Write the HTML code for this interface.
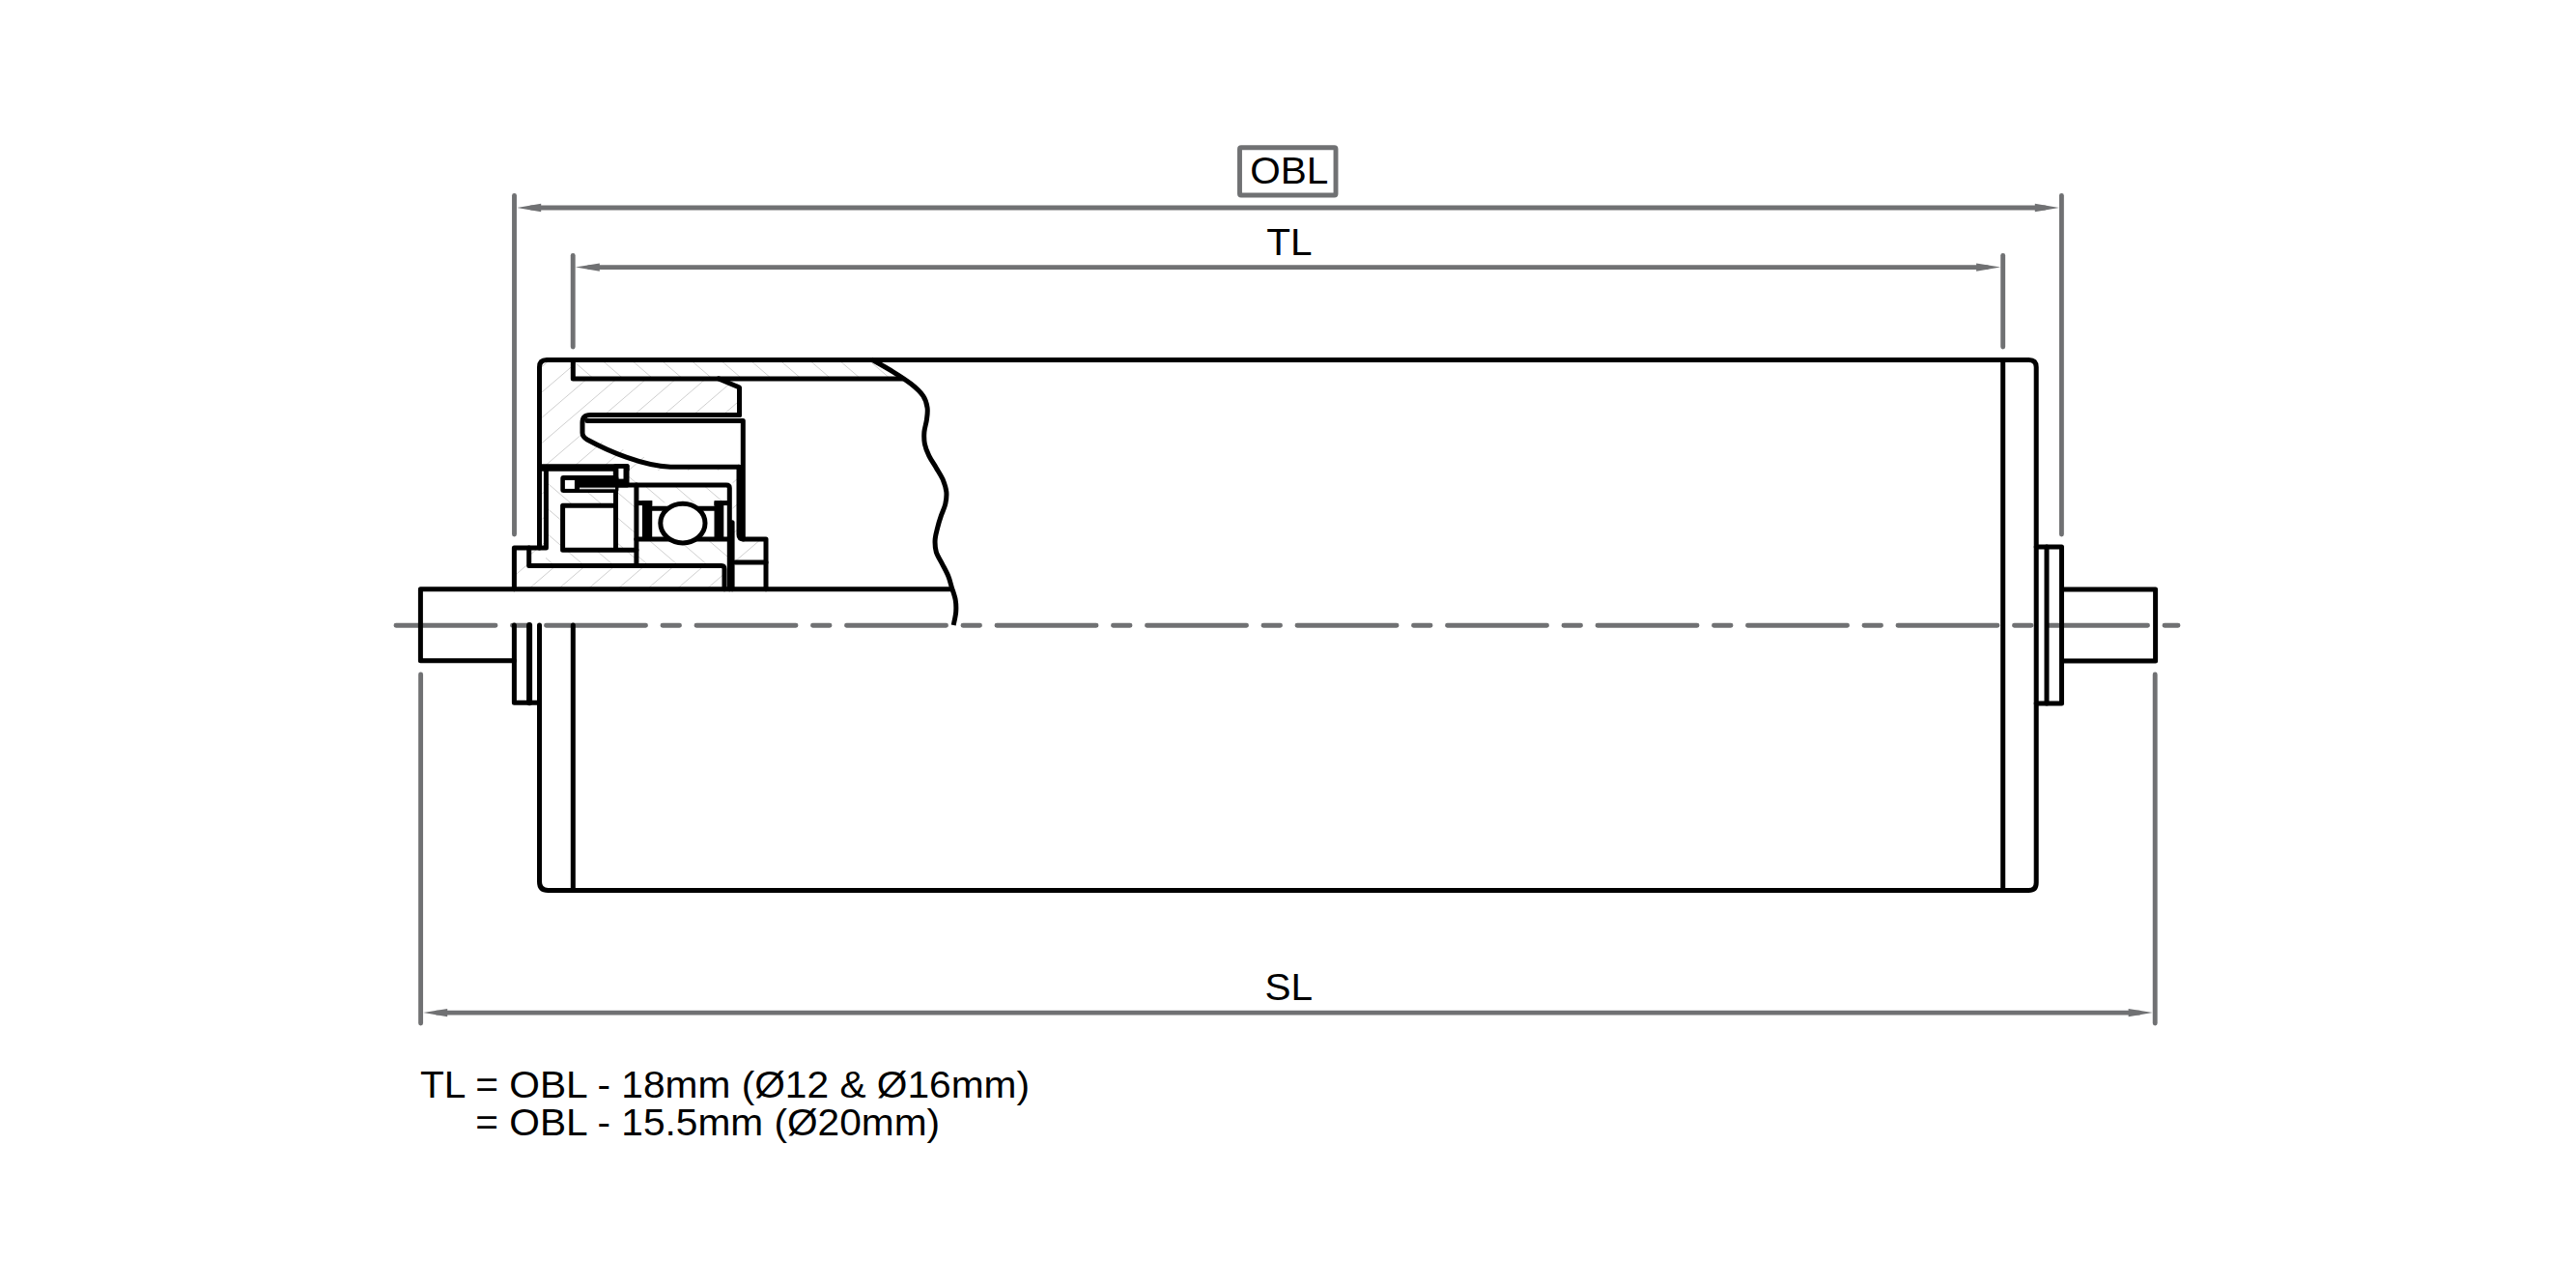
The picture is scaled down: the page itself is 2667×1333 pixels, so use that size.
<!DOCTYPE html>
<html><head><meta charset="utf-8"><style>
html,body{margin:0;padding:0;background:#fff;}
svg{display:block;}
text{font-family:"Liberation Sans", sans-serif;}
</style></head><body>
<svg width="2667" height="1333" viewBox="0 0 2667 1333">
<rect width="2667" height="1333" fill="#fff"/>
<clipPath id="hc1"><path d="M558 373 L593 373 L593 392 L744 392 L765 401 L765 430 L603 430 L603 450 L694 483 L765 483 L769 483 L769 557 L793 557 L793 610 L532 610 L532 567 L558 567 Z"/></clipPath><path clip-path="url(#hc1)" d="M510.8 370.0L228.5 612.0M541.5 370.0L259.2 612.0M572.2 370.0L289.9 612.0M602.9 370.0L320.6 612.0M633.6 370.0L351.3 612.0M664.3 370.0L382.0 612.0M695.0 370.0L412.7 612.0M725.7 370.0L443.4 612.0M756.4 370.0L474.1 612.0M787.1 370.0L504.8 612.0M817.8 370.0L535.5 612.0M848.5 370.0L566.2 612.0M879.2 370.0L596.9 612.0M909.9 370.0L627.6 612.0M940.6 370.0L658.3 612.0M971.3 370.0L689.0 612.0M1002.0 370.0L719.7 612.0M1032.7 370.0L750.4 612.0M1063.4 370.0L781.1 612.0M1094.1 370.0L811.8 612.0" stroke="#cfcfcf" stroke-width="1" fill="none"/>
<rect x="565" y="487" width="193.5" height="98.5" fill="#fff"/>
<rect x="532" y="585" width="218" height="25" fill="#fff"/>
<rect x="532" y="567" width="16" height="43" fill="#fff"/>
<rect x="758" y="557" width="35" height="53" fill="#fff"/>
<clipPath id="hc2"><path d="M532 567 L548 567 L548 585.5 L750 585.5 L750 610 L532 610 Z"/></clipPath><path clip-path="url(#hc2)" d="M507.2 565.0L452.4 612.0M537.9 565.0L483.1 612.0M568.6 565.0L513.8 612.0M599.3 565.0L544.5 612.0M630.0 565.0L575.2 612.0M660.7 565.0L605.9 612.0M691.4 565.0L636.6 612.0M722.1 565.0L667.3 612.0M752.8 565.0L698.0 612.0M783.5 565.0L728.7 612.0M814.2 565.0L759.4 612.0" stroke="#cfcfcf" stroke-width="1" fill="none"/>
<clipPath id="hc3"><path d="M593 373 L904 373 L935 392 L593 392 Z"/></clipPath><path clip-path="url(#hc3)" d="M558.5 370.0L587.6 395.0M589.2 370.0L618.3 395.0M619.9 370.0L649.0 395.0M650.6 370.0L679.7 395.0M681.3 370.0L710.4 395.0M712.0 370.0L741.1 395.0M742.7 370.0L771.8 395.0M773.4 370.0L802.5 395.0M804.1 370.0L833.2 395.0M834.8 370.0L863.9 395.0M865.5 370.0L894.6 395.0M896.2 370.0L925.3 395.0M926.9 370.0L956.0 395.0M957.6 370.0L986.7 395.0" stroke="#cfcfcf" stroke-width="1" fill="none"/>
<clipPath id="hc4"><path d="M659 502 L755 502 L755 520.6 L659 520.6 Z M659 557.9 L755 557.9 L755 585.5 L659 585.5 Z"/></clipPath><path clip-path="url(#hc4)" d="M541.6 500.0L646.6 590.0M572.2 500.0L677.3 590.0M603.0 500.0L708.0 590.0M633.7 500.0L738.7 590.0M664.4 500.0L769.4 590.0M695.1 500.0L800.1 590.0M725.8 500.0L830.8 590.0M756.5 500.0L861.5 590.0M787.2 500.0L892.2 590.0" stroke="#cfcfcf" stroke-width="1" fill="none"/>
<clipPath id="hc5"><path d="M565 487.7 L658.9 487.7 L658.9 585.5 L565 585.5 Z"/></clipPath><path clip-path="url(#hc5)" d="M426.4 485.0L549.0 590.0M457.1 485.0L579.7 590.0M487.8 485.0L610.4 590.0M518.5 485.0L641.1 590.0M549.2 485.0L671.8 590.0M579.9 485.0L702.5 590.0M610.6 485.0L733.2 590.0M641.3 485.0L763.9 590.0M672.0 485.0L794.6 590.0" stroke="#cfcfcf" stroke-width="1" fill="none"/>
<clipPath id="hc6"><path d="M758 557.9 L793 557.9 L793 582.1 L758 582.1 Z"/></clipPath><path clip-path="url(#hc6)" d="M730.0 555.0L695.0 585.0M760.7 555.0L725.7 585.0M791.4 555.0L756.4 585.0M822.1 555.0L787.1 585.0M852.8 555.0L817.8 585.0" stroke="#cfcfcf" stroke-width="1" fill="none"/>
<rect x="582.6" y="523.3" width="55" height="46" fill="#fff"/>
<rect x="565" y="487.7" width="75" height="4.5" fill="#fff"/>
<rect x="658.9" y="520.6" width="96.4" height="37.3" fill="#fff"/>
<g stroke="#707173" stroke-width="4.9" stroke-linecap="round" fill="none"><line x1="532.5" y1="202.5" x2="532.5" y2="553" /><line x1="2134.4" y1="202.5" x2="2134.4" y2="553" /><line x1="550" y1="215" x2="2117" y2="215" /><line x1="593.2" y1="264.5" x2="593.2" y2="359" /><line x1="2073.7" y1="264.5" x2="2073.7" y2="359" /><line x1="610" y1="276.6" x2="2057" y2="276.6" /><line x1="435.6" y1="698" x2="435.6" y2="1059" /><line x1="2231.2" y1="698" x2="2231.2" y2="1059" /><line x1="452" y1="1048.1" x2="2215" y2="1048.1" /><rect x="1283.5" y="152.7" width="99.5" height="49.3" rx="1.5" fill="none"/></g>
<polygon points="535.2,215.0 560.2,210.8 560.2,219.2" fill="#707173"/>
<polygon points="2131.8,215.0 2106.8,210.8 2106.8,219.2" fill="#707173"/>
<polygon points="595.8,276.6 620.8,272.4 620.8,280.8" fill="#707173"/>
<polygon points="2071.1,276.6 2046.1,272.4 2046.1,280.8" fill="#707173"/>
<polygon points="438.2,1048.1 463.2,1043.9 463.2,1052.3" fill="#707173"/>
<polygon points="2228.6,1048.1 2203.6,1043.9 2203.6,1052.3" fill="#707173"/>
<path d="M 410 647.2 L 2255 647.2" stroke="#707173" stroke-width="4.9" stroke-linecap="round" stroke-dasharray="103 17.5 17.5 17.5" fill="none"/>
<g stroke="#000" stroke-width="5" stroke-linejoin="round" stroke-linecap="round" fill="none"><path d="M 558.5 567 L 558.5 380 Q 558.5 372.5 566 372.5 L 2100.5 372.5 Q 2108.2 372.5 2108.2 380 L 2108.2 913.5 Q 2108.2 921.5 2100.2 921.5 L 567.5 921.5 Q 558.5 921.5 558.5 912.5 L 558.5 647"/><path d="M 593.3 647 L 593.3 921.5"/><path d="M 2073.7 372.5 L 2073.7 921.5"/><path d="M 2108.2 566 L 2134.5 566 L 2134.5 728 L 2108.2 728"/><path d="M 2119 566 L 2119 728"/><path d="M 2134.5 610 L 2231.6 610 L 2231.6 684 L 2134.5 684"/><path d="M 984.2 609.8 L 435.4 609.8 L 435.4 683.8 L 532.4 683.8"/><path d="M 532.4 647 L 532.4 727.3 L 558.5 727.3"/><path d="M 593.3 372.5 L 593.3 391.9 L 934.5 391.9"/><path d="M 744 391.9 L 765.5 401 L 765.5 429.6"/><path d="M 765.5 429.5 L 611 429.5 Q 603 429.5 603 437.5 L 603 448 Q 603 452 608 455 C 630 467 665 482 694 483.3 L 765 483.3"/><path d="M 608 435.6 L 769.3 435.6 L 769.3 557.9"/><path d="M 765 483.3 L 765 553 Q 765 557.9 770 557.9 L 793 557.9 L 793 609.8"/><path d="M 761.4 582.1 L 793 582.1"/><path d="M 565.4 484 L 565.4 567 L 532.4 567 L 532.4 609.8"/><path d="M 547.7 567 L 547.7 585.5 L 747 585.5 Q 750 585.5 750 589 L 750 609.8"/><path d="M 582.6 523.3 L 637.5 523.3 M 582.6 523.3 L 582.6 569.3 L 658.9 569.3 M 637.5 506.3 L 637.5 569.3"/><path d="M 640 502 L 752 502 Q 755.3 502 755.3 505 L 755.3 609.8"/><path d="M 758.1 540.7 L 758.1 609.8"/><path d="M 658.9 502 L 658.9 585.4"/><path d="M 658.9 557.9 L 755.3 557.9"/><path d="M 675 526.2 L 739.5 526.2"/></g>
<path d="M 548.1 647 L 548.1 727.3" stroke="#000" stroke-width="6" stroke-linecap="round"/>
<rect x="664.9" y="518.1" width="10.3" height="41.2" fill="#000"/><rect x="658.9" y="518.1" width="16.3" height="5" fill="#000"/><rect x="739.5" y="518.1" width="15.8" height="5" fill="#000"/>
<rect x="739.5" y="519.2" width="9.8" height="40" fill="#000"/>
<ellipse cx="706.9" cy="541.6" rx="23.1" ry="20.3" fill="#fff" stroke="#000" stroke-width="5"/>
<rect x="558" y="480.2" width="93.5" height="7.5" rx="1.5" fill="#000"/>
<rect x="634.8" y="480.2" width="16.7" height="24.3" rx="2" fill="#000"/>
<rect x="640.4" y="484.9" width="5.1" height="10.7" fill="#fff"/>
<rect x="580.3" y="491.9" width="60.1" height="18.1" rx="3" fill="#000"/>
<rect x="584.9" y="497" width="10" height="8.9" fill="#fff"/>
<rect x="600" y="504.6" width="37" height="1.7" fill="#ddd"/>
<path d="M 902.2 371.9 C 905.9 374.0 917.8 380.6 924.6 384.8 C 931.4 389.0 938.0 393.2 943.2 397.3 C 948.4 401.4 952.9 405.6 955.7 409.7 C 958.5 413.8 959.5 418.0 960.1 422.1 C 960.7 426.2 959.9 430.4 959.4 434.5 C 958.9 438.6 957.2 442.9 956.9 447.0 C 956.6 451.1 956.6 455.3 957.4 459.4 C 958.2 463.5 959.9 467.7 961.9 471.8 C 963.9 475.9 966.9 480.1 969.3 484.2 C 971.7 488.3 974.5 492.5 976.3 496.6 C 978.0 500.8 979.4 505.0 979.8 509.1 C 980.2 513.2 979.7 517.4 978.8 521.5 C 977.9 525.6 975.7 529.8 974.3 533.9 C 972.9 538.0 971.6 542.1 970.6 546.3 C 969.6 550.4 968.3 554.6 968.1 558.8 C 967.9 562.9 968.1 567.1 969.3 571.2 C 970.5 575.3 973.4 579.5 975.5 583.6 C 977.6 587.7 980.0 591.9 981.7 596.0 C 983.4 600.1 984.2 604.2 985.5 608.4 C 986.8 612.5 988.5 616.8 989.2 620.9 C 989.9 625.0 990.0 628.9 989.7 633.3 C 989.4 637.6 987.6 644.7 987.2 647.0" stroke="#000" stroke-width="5" fill="none" stroke-linecap="butt"/>
<g fill="#000" font-family="Liberation Sans, sans-serif"><g transform="translate(1294.3 189.7) scale(1.066 1)"><text x="0" y="0" font-size="38">OBL</text></g><g transform="translate(1311.2 264.2) scale(1.066 1)"><text x="0" y="0" font-size="38">TL</text></g><g transform="translate(1309.6 1035.0) scale(1.066 1)"><text x="0" y="0" font-size="38">SL</text></g><g transform="translate(434.9 1136.0) scale(1.071 1)"><text x="0" y="0" font-size="38">TL = OBL - 18mm (Ø12 &amp; Ø16mm)</text></g><g transform="translate(492.3 1175.2) scale(1.070 1)"><text x="0" y="0" font-size="38">= OBL - 15.5mm (Ø20mm)</text></g></g>
</svg></body></html>
